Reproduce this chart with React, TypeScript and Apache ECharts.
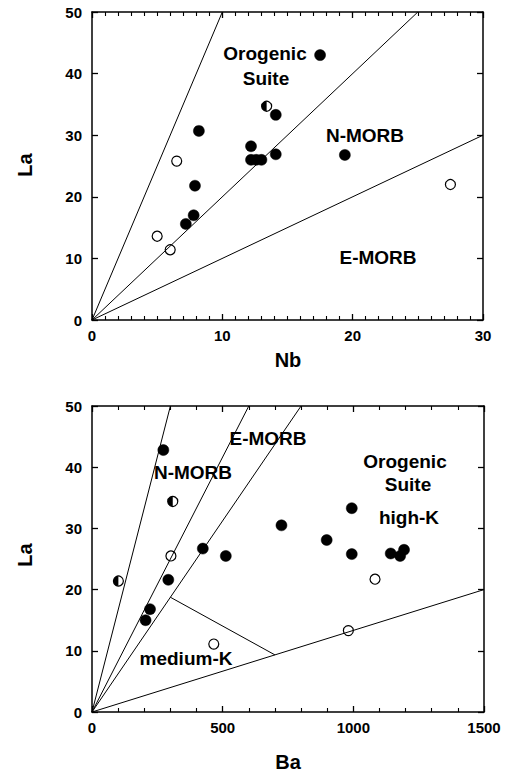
import React, { useEffect, useRef } from "react";
import * as echarts from "echarts";

// ---------- Data ----------
// Top chart: Nb (x) vs La (y)
const nbLaFilled: number[][] = [
  [17.5, 43.0], [8.2, 30.7], [14.1, 33.3], [12.2, 28.2], [12.2, 26.0], [12.6, 26.0],
  [13.0, 26.0], [14.1, 26.9], [19.4, 26.8], [7.9, 21.8], [7.8, 17.0], [7.2, 15.6],
];
const nbLaHalf: number[][] = [[13.4, 34.7]];
const nbLaOpen: number[][] = [[6.5, 25.8], [5.0, 13.6], [6.0, 11.4], [27.5, 22.0]];
const nbLaBoundaries: number[][][] = [
  [[0, 0], [10, 50]],
  [[0, 0], [25, 50]],
  [[0, 0], [30, 30]],
];

// Bottom chart: Ba (x) vs La (y)
const baLaFilled: number[][] = [
  [273, 42.8], [424, 26.7], [512, 25.5], [725, 30.5], [994, 33.3], [898, 28.1],
  [994, 25.8], [1143, 25.9], [1179, 25.5], [1194, 26.5], [292, 21.6], [222, 16.8], [205, 15.0],
];
const baLaHalf: number[][] = [[309, 34.4], [101, 21.4]];
const baLaOpen: number[][] = [[302, 25.5], [466, 11.1], [1083, 21.7], [981, 13.3]];
const baLaBoundaries: number[][][] = [
  [[0, 0], [300, 50]],
  [[0, 0], [600, 50]],
  [[0, 0], [800, 50]],
  [[0, 0], [1500, 20]],
  [[300, 18.75], [700, 9.33]],
];

const yTicks = { min: 0, max: 50, interval: 10 };
const nbTicks = { min: 0, max: 30, interval: 10, minor: 10 };
const baTicks = { min: 0, max: 1500, interval: 500, minor: 5 };

const FONT = "'Liberation Sans', Arial, Helvetica, sans-serif";

export default function App() {
  const ref = useRef<HTMLDivElement>(null);

  useEffect(() => {
    if (!ref.current) return;
    const chart = echarts.init(ref.current, undefined, { renderer: "svg" });

    // Each axis sits on the zero of a partner axis; the mirrored (top / right)
    // axes are inverted so that their zero lies on the top / right frame edge.
    const axisLine = (partner: number) => ({
      show: true,
      onZeroAxisIndex: partner,
      lineStyle: { color: "#000", width: 1.5 },
    });
    const tickStyle = () => ({ show: true, inside: true, length: 6, lineStyle: { color: "#000", width: 1.3 } });
    const labelStyle = (show: boolean, margin: number) => ({
      show,
      margin,
      color: "#000",
      fontWeight: "bold",
      fontSize: 15,
      fontFamily: FONT,
      formatter: (v: number) => String(v),
    });

    const makeX = (grid: number, t: any, pos: "bottom" | "top", partner: number) => ({
      type: "value",
      gridIndex: grid,
      position: pos,
      inverse: pos === "top",
      min: t.min,
      max: t.max,
      interval: t.interval,
      axisLine: axisLine(partner),
      axisTick: tickStyle(),
      minorTick: { show: true, splitNumber: t.minor, length: 4, lineStyle: { color: "#000", width: 1.1 } },
      axisLabel: labelStyle(pos === "bottom", 8),
      splitLine: { show: false },
      minorSplitLine: { show: false },
    });
    const makeY = (grid: number, pos: "left" | "right", partner: number) => ({
      type: "value",
      gridIndex: grid,
      position: pos,
      inverse: pos === "right",
      min: yTicks.min,
      max: yTicks.max,
      interval: yTicks.interval,
      axisLine: axisLine(partner),
      axisTick: tickStyle(),
      axisLabel: labelStyle(pos === "left", 10),
      splitLine: { show: false },
    });

    const lineSeries = (lines: number[][][], xi: number, yi: number) =>
      lines.map((seg) => ({
        type: "line",
        xAxisIndex: xi,
        yAxisIndex: yi,
        data: seg,
        symbol: "none",
        silent: true,
        lineStyle: { color: "#000", width: 1 },
      }));

    const filled = (data: number[][], xi: number, yi: number) => ({
      type: "scatter",
      xAxisIndex: xi,
      yAxisIndex: yi,
      data,
      symbol: "circle",
      symbolSize: 11,
      itemStyle: { color: "#000", borderColor: "#000", borderWidth: 0.5, opacity: 1 },
    });
    const open = (data: number[][], xi: number, yi: number) => ({
      type: "scatter",
      xAxisIndex: xi,
      yAxisIndex: yi,
      data,
      symbol: "circle",
      symbolSize: 10,
      itemStyle: { color: "#fff", borderColor: "#000", borderWidth: 1.2, opacity: 1 },
    });
    const half = (data: number[][], xi: number, yi: number) => ({
      type: "custom",
      coordinateSystem: "cartesian2d",
      xAxisIndex: xi,
      yAxisIndex: yi,
      data,
      renderItem: (_p: any, api: any) => {
        const c = api.coord([api.value(0), api.value(1)]);
        const r = 5;
        return {
          type: "group",
          children: [
            { type: "circle", shape: { cx: c[0], cy: c[1], r }, style: { fill: "#fff", stroke: "#000", lineWidth: 1.2 } },
            {
              type: "sector",
              shape: { cx: c[0], cy: c[1], r, r0: 0, startAngle: Math.PI / 2, endAngle: (Math.PI * 3) / 2, clockwise: true },
              style: { fill: "#000" },
            },
          ],
        };
      },
    });

    const txt = (text: string, x: number, y: number, size = 19, rotation = 0) => ({
      type: "text",
      x,
      y,
      rotation,
      z: 10,
      style: {
        text,
        x: 0,
        y: 0,
        align: "center",
        verticalAlign: "middle",
        fill: "#000",
        fontWeight: "bold",
        fontSize: size,
        fontFamily: FONT,
      },
    });

    chart.setOption({
      animation: false,
      grid: [
        { left: 92, top: 12, width: 391, height: 308 },
        { left: 92, top: 406, width: 392, height: 306 },
      ],
      xAxis: [
        makeX(0, nbTicks, "bottom", 0),
        makeX(0, nbTicks, "top", 1),
        makeX(1, baTicks, "bottom", 2),
        makeX(1, baTicks, "top", 3),
      ],
      yAxis: [
        makeY(0, "left", 0),
        makeY(0, "right", 1),
        makeY(1, "left", 2),
        makeY(1, "right", 3),
      ],
      series: [
        ...lineSeries(nbLaBoundaries, 0, 0),
        filled(nbLaFilled, 0, 0),
        open(nbLaOpen, 0, 0),
        half(nbLaHalf, 0, 0),
        ...lineSeries(baLaBoundaries, 2, 2),
        filled(baLaFilled, 2, 2),
        open(baLaOpen, 2, 2),
        half(baLaHalf, 2, 2),
      ],
      graphic: [
        txt("La", 25, 165, 20, Math.PI / 2),
        txt("Nb", 288, 360, 20),
        txt("La", 25, 555, 20, Math.PI / 2),
        txt("Ba", 288, 762, 20),
        txt("Orogenic", 265, 53),
        txt("Suite", 266, 78),
        txt("N-MORB", 365, 135),
        txt("E-MORB", 378, 257),
        txt("E-MORB", 268, 438),
        txt("N-MORB", 193, 472),
        txt("Orogenic", 405, 461),
        txt("Suite", 408, 484),
        txt("high-K", 409, 517),
        txt("medium-K", 186, 658),
      ],
    });

    return () => chart.dispose();
  }, []);

  return (
    <div
      ref={ref}
      style={{ position: "fixed", left: 0, top: 0, width: 506, height: 773, background: "#fff" }}
    />
  );
}
